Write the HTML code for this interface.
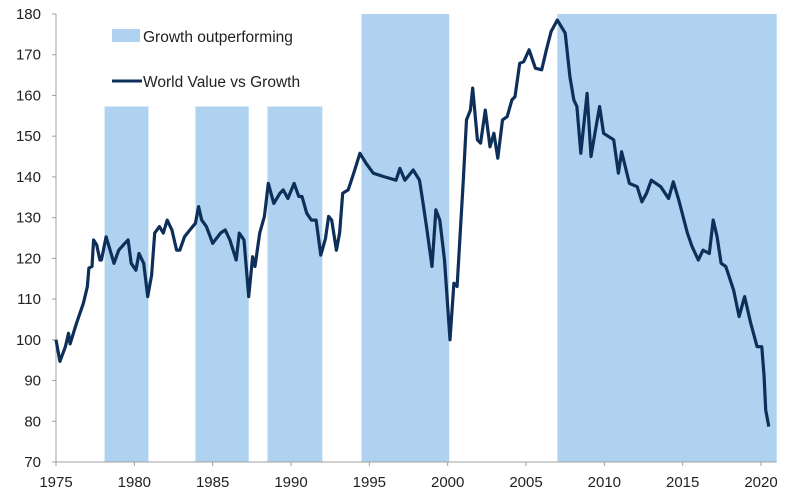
<!DOCTYPE html>
<html><head><meta charset="utf-8"><style>
html,body{margin:0;padding:0;background:#fff;}
svg{display:block;font-family:"Liberation Sans",sans-serif;}
</style></head><body>
<svg id="chart" width="800" height="499" viewBox="0 0 800 499">
<g id="bands"></g>
<g id="axes"></g>
<path id="series" fill="none" stroke="#0d2f5a" stroke-width="3.2" stroke-linejoin="round"/>
<g>
<rect x="112" y="29" width="28" height="13" fill="#aed2ef"/>
<text x="143" y="42" font-size="15.5" fill="#222">Growth outperforming</text>
<line x1="112" y1="81" x2="142" y2="81" stroke="#0d2f5a" stroke-width="3"/>
<text x="143" y="87" font-size="15.5" fill="#222">World Value vs Growth</text>
</g>
</svg>
<script>
const bandStarts=[1978.1,1983.9,1988.5,1994.5,2007.0];
const bandEnds=[1980.9,1987.3,1992.0,2000.1,2021.0];
const bandTops=[157.3,157.3,157.3,180,180];
const years=[1975.0,1975.25,1975.6,1975.8,1975.9,1976.3,1976.75,1977.0,1977.1,1977.3,1977.4,1977.6,1977.8,1977.9,1978.2,1978.45,1978.7,1979.0,1979.3,1979.6,1979.8,1980.1,1980.3,1980.6,1980.85,1981.1,1981.3,1981.6,1981.85,1982.1,1982.4,1982.7,1982.9,1983.2,1983.55,1983.9,1984.1,1984.3,1984.6,1985.0,1985.5,1985.8,1986.1,1986.5,1986.7,1987.0,1987.3,1987.55,1987.7,1988.0,1988.3,1988.55,1988.9,1989.3,1989.5,1989.8,1990.2,1990.5,1990.7,1991.0,1991.3,1991.6,1991.9,1992.2,1992.4,1992.6,1992.9,1993.1,1993.3,1993.65,1994.0,1994.4,1994.8,1995.25,1995.9,1996.7,1996.95,1997.27,1997.8,1998.2,1998.4,1998.65,1999.0,1999.25,1999.5,1999.8,2000.15,2000.4,2000.6,2001.0,2001.2,2001.45,2001.6,2001.9,2002.1,2002.4,2002.7,2002.95,2003.2,2003.5,2003.8,2004.1,2004.3,2004.6,2004.85,2005.2,2005.6,2006.0,2006.3,2006.6,2007.0,2007.5,2007.8,2008.05,2008.25,2008.5,2008.9,2009.15,2009.4,2009.7,2009.95,2010.6,2010.9,2011.1,2011.6,2012.1,2012.4,2012.7,2013.0,2013.6,2014.1,2014.4,2014.75,2015.3,2015.6,2016.0,2016.3,2016.7,2016.95,2017.2,2017.45,2017.75,2018.25,2018.6,2018.95,2019.35,2019.75,2020.05,2020.2,2020.3,2020.5];
const values=[100,94.7,98.3,101.6,99,104,109,113,117.6,118,124.5,123.3,119.6,119.6,125.3,122,118.8,122,123.3,124.5,118.8,117.1,121.2,118.8,110.6,115.9,126.2,127.8,126.2,129.4,127,122,122,125.3,127,128.6,132.7,129.4,127.8,123.7,126.2,127,124.5,119.6,126.2,124.5,110.6,120.4,118,126.2,130.3,138.4,133.5,136,136.8,134.7,138.4,135.2,135.2,131.1,129.4,129.4,120.8,124.9,130.3,129.4,122,126.2,136,136.8,140.9,145.8,143.3,140.9,140.1,139.2,142.1,139.2,141.7,139.2,134.3,127.8,118,131.9,129.4,119.6,100,113.9,113.1,139.2,154,156.4,161.8,149.1,148.3,156.4,147.4,150.7,144.6,154,154.8,158.9,159.7,167.9,168.3,171.2,166.7,166.3,171.2,175.7,178.5,175.3,164.6,158.9,157.3,145.8,160.5,145,150.7,157.3,150.7,149.1,140.9,146.2,138.4,137.6,133.9,136,139.2,137.6,134.7,138.8,134.3,126.2,122.9,119.6,122,121.2,129.4,125.3,118.8,118,112.2,105.7,110.6,104,98.3,98.3,91,82.8,78.7];
const yTicks=[70,80,90,100,110,120,130,140,150,160,170,180];
const xTicks=[1975,1980,1985,1990,1995,2000,2005,2010,2015,2020];

const NS="http://www.w3.org/2000/svg";
const X0=56,PXY=15.667,Y0=462,PXV=4.0727;
function xs(y){return X0+(y-1975)*PXY;}
function ys(v){return Y0-(v-70)*PXV;}
function mk(t,a,p){const e=document.createElementNS(NS,t);for(const k in a)e.setAttribute(k,a[k]);p.appendChild(e);return e;}

const bg=document.getElementById('bands');
bandStarts.forEach((s,i)=>{
  const r=mk('rect',{x:xs(s),y:ys(bandTops[i]),width:xs(bandEnds[i])-xs(s),height:Y0-ys(bandTops[i]),fill:'#aed2ef'},bg);
  
  
});

const ax=document.getElementById('axes');
const yl=mk('line',{x1:X0,y1:ys(180),x2:X0,y2:Y0,stroke:'#a0a0a0','stroke-width':1},ax);


const xl=mk('line',{x1:X0,y1:Y0,x2:xs(2021),y2:Y0,stroke:'#a0a0a0','stroke-width':1},ax);


yTicks.forEach(v=>{
  mk('line',{x1:X0-4,y1:ys(v),x2:X0,y2:ys(v),stroke:'#a0a0a0'},ax);
  const t=mk('text',{x:X0-15,y:ys(v)+5,'text-anchor':'end','font-size':15,fill:'#222'},ax);
  t.textContent=v;
  
  
});
xTicks.forEach(y=>{
  mk('line',{x1:xs(y),y1:Y0,x2:xs(y),y2:Y0+4,stroke:'#a0a0a0'},ax);
  const t=mk('text',{x:xs(y),y:Y0+25,'text-anchor':'middle','font-size':15,fill:'#222'},ax);
  t.textContent=y;
  
  
});

document.getElementById('series').setAttribute('d',years.map((y,i)=>(i?'L':'M')+xs(y).toFixed(1)+' '+ys(values[i]).toFixed(1)).join(' '));
</script>
</body></html>
